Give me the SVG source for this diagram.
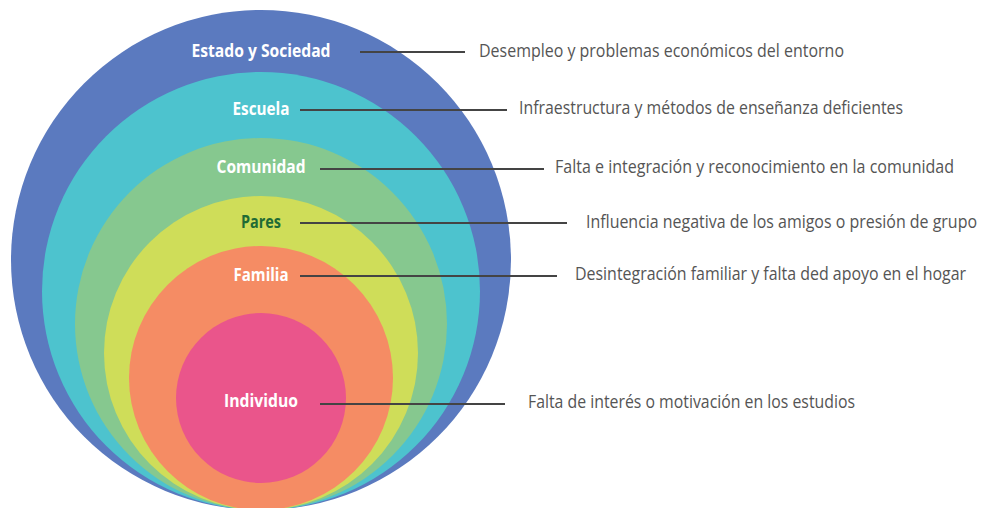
<svg xmlns="http://www.w3.org/2000/svg" width="990" height="508" viewBox="0 0 990 508">
<style>
.lbl{font-family:"Open Sans","Noto Sans","Liberation Sans",sans-serif;font-weight:700;font-size:18px;fill:#ffffff;text-anchor:middle}
.desc{font-family:"Open Sans","Noto Sans","Liberation Sans",sans-serif;font-size:18px;fill:#555555}
.conn line{stroke:#444444;stroke-width:2}
</style>
<rect width="990" height="508" fill="#ffffff"/>
<g id="estado"><circle cx="261" cy="260" r="250" fill="#5b7abf"/></g>
<g id="escuela"><circle cx="261" cy="291" r="219" fill="#4dc3ce"/></g>
<g id="comunidad"><circle cx="261" cy="324" r="186" fill="#86c88f"/></g>
<g id="pares"><circle cx="261" cy="353" r="157" fill="#cfdd59"/></g>
<g id="familia"><circle cx="261" cy="378" r="132" fill="#f58c64"/></g>
<g id="individuo"><circle cx="261" cy="398" r="85" fill="#ea558b"/></g>
<g id="labels">
<text class="lbl" x="261" y="57" textLength="139" lengthAdjust="spacingAndGlyphs">Estado y Sociedad</text>
<text class="lbl" x="261" y="115" textLength="57" lengthAdjust="spacingAndGlyphs">Escuela</text>
<text class="lbl" x="261" y="173" textLength="89" lengthAdjust="spacingAndGlyphs">Comunidad</text>
<text class="lbl" x="261" y="228" textLength="40" lengthAdjust="spacingAndGlyphs" style="fill:#1f6b35">Pares</text>
<text class="lbl" x="261" y="281" textLength="55" lengthAdjust="spacingAndGlyphs">Familia</text>
<text class="lbl" x="261" y="407" textLength="74" lengthAdjust="spacingAndGlyphs">Individuo</text>
</g>
<g id="connectors" class="conn">
<line x1="360" y1="52" x2="465" y2="52"/>
<line x1="300" y1="110" x2="507" y2="110"/>
<line x1="320" y1="169" x2="544" y2="169"/>
<line x1="300" y1="223" x2="567" y2="223"/>
<line x1="300" y1="276" x2="557" y2="276"/>
<line x1="320" y1="404" x2="505" y2="404"/>
</g>
<g id="descriptions">
<text class="desc" x="479" y="57" textLength="365" lengthAdjust="spacingAndGlyphs">Desempleo y problemas económicos del entorno</text>
<text class="desc" x="519" y="114" textLength="384" lengthAdjust="spacingAndGlyphs">Infraestructura y métodos de enseñanza deficientes</text>
<text class="desc" x="555" y="173" textLength="399" lengthAdjust="spacingAndGlyphs">Falta e integración y reconocimiento en la comunidad</text>
<text class="desc" x="586" y="228" textLength="391" lengthAdjust="spacingAndGlyphs">Influencia negativa de los amigos o presión de grupo</text>
<text class="desc" x="575" y="280" textLength="391" lengthAdjust="spacingAndGlyphs">Desintegración familiar y falta ded apoyo en el hogar</text>
<text class="desc" x="528" y="408" textLength="327" lengthAdjust="spacingAndGlyphs">Falta de interés o motivación en los estudios</text>
</g>
</svg>
